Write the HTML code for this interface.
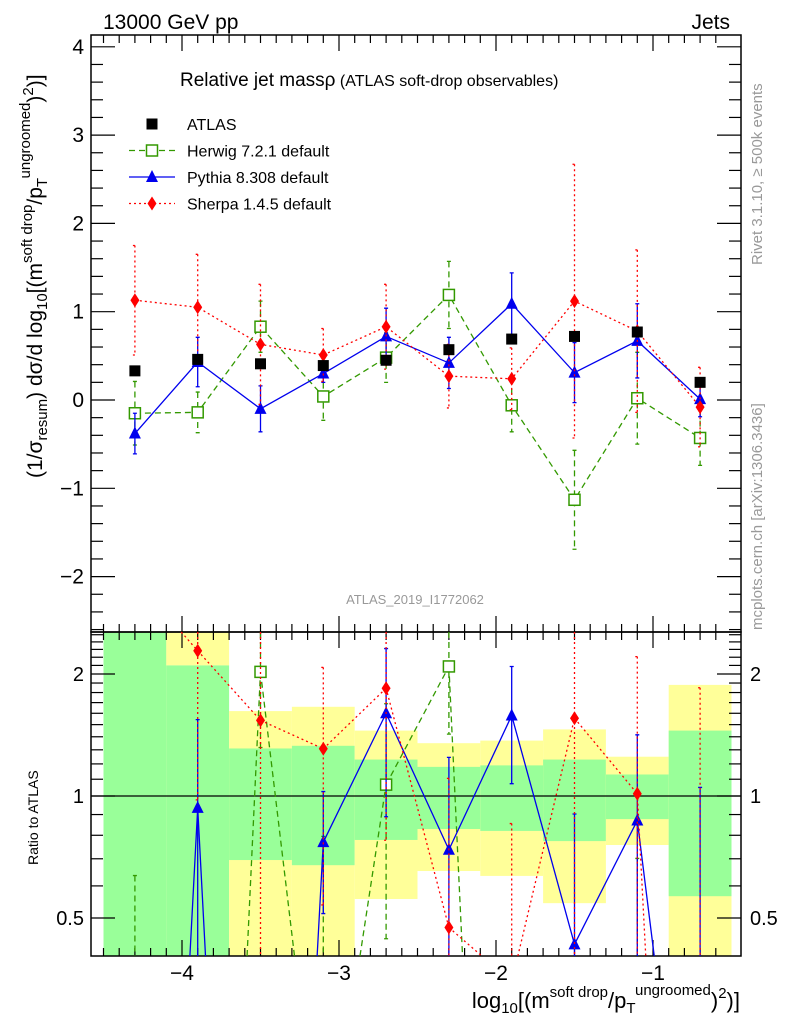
<!DOCTYPE html>
<html><head><meta charset="utf-8"><style>
html,body{margin:0;padding:0;background:#fff;overflow:hidden;width:786px;height:1024px;}
svg{display:block;font-family:"Liberation Sans",sans-serif;}
</style></head><body>
<svg id="chart" width="786" height="1024" viewBox="0 0 786 1024" xmlns="http://www.w3.org/2000/svg">
<rect x="0" y="0" width="786" height="1024" fill="#fff"/>
<g id="bands"></g>
<g id="grid"></g>
<g id="series"></g>
<text x="103" y="29" font-size="21">13000 GeV pp</text>
<text x="730" y="29" font-size="21" text-anchor="end">Jets</text>
<text x="180" y="86" font-size="19">Relative jet mass<tspan>ρ</tspan><tspan font-size="16"> (ATLAS soft-drop observables)</tspan></text>
<text x="415" y="604" font-size="13" fill="#999" text-anchor="middle">ATLAS_2019_I1772062</text>
<text transform="translate(762,265) rotate(-90)" font-size="15" fill="#999">Rivet 3.1.10, ≥ 500k events</text>
<text transform="translate(762,630) rotate(-90)" font-size="15" fill="#999">mcplots.cern.ch [arXiv:1306.3436]</text>
<text transform="translate(42,478) rotate(-90)" font-size="21">(1/σ<tspan font-size="15" dy="5">resum</tspan><tspan dy="-5">) dσ/d log</tspan><tspan font-size="15" dy="5">10</tspan><tspan dy="-5">[(m</tspan><tspan font-size="15" dy="-10">soft drop</tspan><tspan dy="10">/p</tspan><tspan font-size="15" dy="5">T</tspan><tspan font-size="15" dy="-17">ungroomed</tspan><tspan dy="12">)</tspan><tspan font-size="15" dy="-9">2</tspan><tspan dy="9">)]</tspan></text>
<text transform="translate(38,865) rotate(-90)" font-size="14">Ratio to ATLAS</text>
<text x="740" y="1008" font-size="22" text-anchor="end">log<tspan font-size="15" dy="5">10</tspan><tspan dy="-5">[(m</tspan><tspan font-size="15" dy="-11">soft drop</tspan><tspan dy="11">/p</tspan><tspan font-size="15" dy="5">T</tspan><tspan font-size="15" dy="-18">ungroomed</tspan><tspan dy="13">)</tspan><tspan font-size="15" dy="-10">2</tspan><tspan dy="10">)]</tspan></text>
<g id="legend"></g>
</svg>
<script>
const xCenters=[-4.3,-3.9,-3.5,-3.1,-2.7,-2.3,-1.9,-1.5,-1.1,-0.7];
const atlasVals=[0.33,0.46,0.41,0.39,0.45,0.57,0.69,0.72,0.77,0.20];
const herwigVals=[-0.15,-0.14,0.83,0.04,0.48,1.19,-0.06,-1.13,0.02,-0.43];
const herwigErr=[0.36,0.23,0.29,0.27,0.28,0.38,0.30,0.56,0.52,0.31];
const pythiaVals=[-0.38,0.43,-0.10,0.30,0.72,0.42,1.09,0.31,0.67,0.01];
const pythiaErr=[0.23,0.28,0.26,0.10,0.32,0.29,0.35,0.34,0.42,0.20];
const sherpaVals=[1.13,1.05,0.63,0.51,0.83,0.27,0.24,1.12,0.78,-0.08];
const sherpaErr=[0.62,0.60,0.68,0.30,0.48,0.36,0.35,1.55,0.92,0.45];
const binEdges=[-4.5,-4.1,-3.7,-3.3,-2.9,-2.5,-2.1,-1.7,-1.3,-0.9,-0.5];
const yellowHi=[3,3,1.62,1.66,1.45,1.35,1.37,1.46,1.25,1.88];
const yellowLo=[0.3,2.10,0.3,0.3,0.557,0.653,0.635,0.544,0.757,0.3];
const greenHi=[3,2.10,1.31,1.33,1.23,1.18,1.19,1.23,1.13,1.45];
const greenLo=[0.3,0.3,0.695,0.675,0.779,0.829,0.820,0.774,0.877,0.566];
const xTicks=[-4,-3,-2,-1];
const yTicks=[-2,-1,0,1,2,3,4];
const rTicks=[0.5,1,2];

const NS="http://www.w3.org/2000/svg";
const L=91,R=741,T=35,MB=632,RB=956;
const X=v=>810+157*v;
const Y=v=>400-88.3*v;
const YR=r=>796-122*Math.log2(r);
const clampY=(y,a,b)=>Math.max(a,Math.min(b,y));
function mk(parent,tag,attrs){const e=document.createElementNS(NS,tag);for(const k in attrs)e.setAttribute(k,attrs[k]);document.getElementById(parent).appendChild(e);return e;}
// clip a polyline to the band [a,b] in y; returns path string
function clipPath(pts,a,b){let d='';
 for(let i=0;i<pts.length-1;i++){let [x1,y1]=pts[i],[x2,y2]=pts[i+1];
  if((y1<a&&y2<a)||(y1>b&&y2>b))continue;
  const f=(yy)=>x1+(x2-x1)*(yy-y1)/(y2-y1);
  let sx=x1,sy=y1,ex=x2,ey=y2;
  if(sy<a){sx=f(a);sy=a;} if(sy>b){sx=f(b);sy=b;}
  if(ey<a){ex=f(a);ey=a;} if(ey>b){ex=f(b);ey=b;}
  d+=`M${sx},${sy}L${ex},${ey}`;}
 return d;}
for(let i=0;i<binEdges.length-1;i++){
 const x0=X(binEdges[i]),x1=X(binEdges[i+1]);
 const yh=clampY(YR(yellowHi[i]),MB,RB),yl=clampY(YR(yellowLo[i]),MB,RB);
 let e=mk('bands','rect',{x:x0,y:yh,width:x1-x0,height:yl-yh,fill:'#ffff99'});
 
 
 const gh=clampY(YR(greenHi[i]),MB,RB),gl=clampY(YR(greenLo[i]),MB,RB);
 e=mk('bands','rect',{x:x0,y:gh,width:x1-x0,height:gl-gh,fill:'#99ff99'});
 
 
}
mk('grid','rect',{x:L,y:T,width:R-L,height:MB-T,fill:'none',stroke:'#000','stroke-width':1.5});
mk('grid','rect',{x:L,y:MB,width:R-L,height:RB-MB,fill:'none',stroke:'#000','stroke-width':1.5});
mk('grid','line',{x1:L,x2:R,y1:YR(1),y2:YR(1),stroke:'#000','stroke-width':1.3});
function tick(x1,y1,x2,y2){mk('grid','line',{x1,y1,x2,y2,stroke:'#000','stroke-width':1.2});}
for(let v=-4.5;v<=-0.5;v+=0.1){const vv=Math.round(v*10)/10,x=X(vv);if(x<L||x>R)continue;const maj=Math.abs(vv-Math.round(vv))<1e-6;const len=maj?16:8;
 tick(x,T,x,T+len);tick(x,MB,x,MB-len);tick(x,MB,x,MB+len);tick(x,RB,x,RB-len);}
xTicks.forEach(v=>{const t=mk('grid','text',{x:X(v),y:980,'font-size':21,'text-anchor':'middle'});t.textContent='−'+Math.abs(v);
 
 });
for(let v=-2.6;v<=4.1;v+=0.2){const vv=Math.round(v*10)/10,y=Y(vv);if(y<T||y>MB)continue;const maj=Math.abs(vv-Math.round(vv))<1e-6;const len=maj?24:12;tick(L,y,L+len,y);tick(R,y,R-len,y);}
yTicks.forEach(v=>{const t=mk('grid','text',{x:84,y:Y(v)+7,'font-size':21,'text-anchor':'end'});t.textContent=v<0?'−'+Math.abs(v):String(v);
 
 });
[0.4,0.5,0.6,0.7,0.8,0.9,1,1.1,1.2,1.3,1.4,1.5,1.6,1.7,1.8,1.9,2,2.1,2.2,2.3,2.4,2.5].forEach(v=>{const y=YR(v);if(y<MB||y>RB)return;const maj=(v===0.5||v===1||v===2);const len=maj?24:12;tick(L,y,L+len,y);tick(R,y,R-len,y);});
rTicks.forEach(v=>{let t=mk('grid','text',{x:84,y:YR(v)+7,'font-size':20,'text-anchor':'end'});t.textContent=String(v);
 
 
 t=mk('grid','text',{x:750,y:YR(v)+7,'font-size':20});t.textContent=String(v);
 
 });
function marker(g,type,x,y,color){
 if(type==='sq')return mk(g,'rect',{x:x-5.5,y:y-5.5,width:11,height:11,fill:'#000'});
 if(type==='osq')return mk(g,'rect',{x:x-5.5,y:y-5.5,width:11,height:11,fill:'#fff',stroke:color,'stroke-width':1.5});
 if(type==='tri')return mk(g,'polygon',{points:`${x},${y-7} ${x-6},${y+5} ${x+6},${y+5}`,fill:color});
 if(type==='dia')return mk(g,'polygon',{points:`${x},${y-7} ${x-4.5},${y} ${x},${y+7} ${x+4.5},${y}`,fill:color});
}
const sgrpM=document.createElementNS(NS,'g');sgrpM.setAttribute('id','sm');document.getElementById('series').appendChild(sgrpM);
const sgrpR=document.createElementNS(NS,'g');sgrpR.setAttribute('id','sr');document.getElementById('series').appendChild(sgrpR);
const models=[
 {name:'herwig',vals:herwigVals,err:herwigErr,color:'#339900',dash:'6,4',m:'osq'},
 {name:'pythia',vals:pythiaVals,err:pythiaErr,color:'#0000ee',dash:'',m:'tri'},
 {name:'sherpa',vals:sherpaVals,err:sherpaErr,color:'#ff0000',dash:'2,3',m:'dia'}];
models.forEach(md=>{
 const pts=xCenters.map((x,i)=>X(x)+','+Y(md.vals[i])).join(' ');
 let e=mk('sm','polyline',{points:pts,fill:'none',stroke:md.color,'stroke-width':1.3,'stroke-dasharray':md.dash});
 
 
 xCenters.forEach((xc,i)=>{const x=X(xc);
  const yh=clampY(Y(md.vals[i]+md.err[i]),T,MB),yl=clampY(Y(md.vals[i]-md.err[i]),T,MB);
  const eb=mk('sm','path',{d:`M${x},${yh}V${yl}M${x-2},${yh}h4M${x-2},${yl}h4`,stroke:md.color,'stroke-width':1.3,'stroke-dasharray':md.dash,fill:'none'});
  
  
  const mm=marker('sm',md.m,x,Y(md.vals[i]),md.color);
  
  
 });
 const rpts=xCenters.map((x,i)=>{const r=md.vals[i]/atlasVals[i];return [X(x),r>0?YR(r):2000];});
 e=mk('sr','path',{d:clipPath(rpts,MB,RB),fill:'none',stroke:md.color,'stroke-width':1.3,'stroke-dasharray':md.dash});
 
 
 xCenters.forEach((xc,i)=>{const x=X(xc);const r=md.vals[i]/atlasVals[i];const re=md.err[i]/atlasVals[i];
  const hi=r+re,lo=r-re;if(hi<=0||r>3)return;
  const yhr=YR(hi),ylr=lo>0?YR(lo):2000;
  if(yhr>RB||ylr<MB)return;
  const yh=clampY(yhr,MB,RB),yl=clampY(ylr,MB,RB);
  let d=`M${x},${yh}V${yl}`;
  if(yhr>=MB)d+=`M${x-2},${yh}h4`;
  if(ylr<=RB)d+=`M${x-2},${yl}h4`;
  const eb=mk('sr','path',{d,stroke:md.color,'stroke-width':1.3,'stroke-dasharray':md.dash,fill:'none'});
  
  
  const ym=YR(r);
  if(r>0&&ym>=MB&&ym<=RB){const mm=marker('sr',md.m,x,ym,md.color);
   
   }
 });
});
xCenters.forEach((xc,i)=>{const mm=marker('sm','sq',X(xc),Y(atlasVals[i]),'#000');
 
 });
const leg=[['ATLAS','sq','#000',''],['Herwig 7.2.1 default','osq','#339900','6,4'],['Pythia 8.308 default','tri','#0000ee',''],['Sherpa 1.4.5 default','dia','#ff0000','2,3']];
leg.forEach((l,i)=>{const y=124+26.5*i;
 if(i>0){const ln=mk('legend','line',{x1:129,x2:175,y1:y,y2:y,stroke:l[2],'stroke-width':1.3,'stroke-dasharray':l[3]});
  
  }
 const m=marker('legend',l[1],152,y,l[2]);
 
 
 const t=mk('legend','text',{x:187,y:y+6,'font-size':16});t.textContent=l[0];
 
 
});
</script>
</body></html>
